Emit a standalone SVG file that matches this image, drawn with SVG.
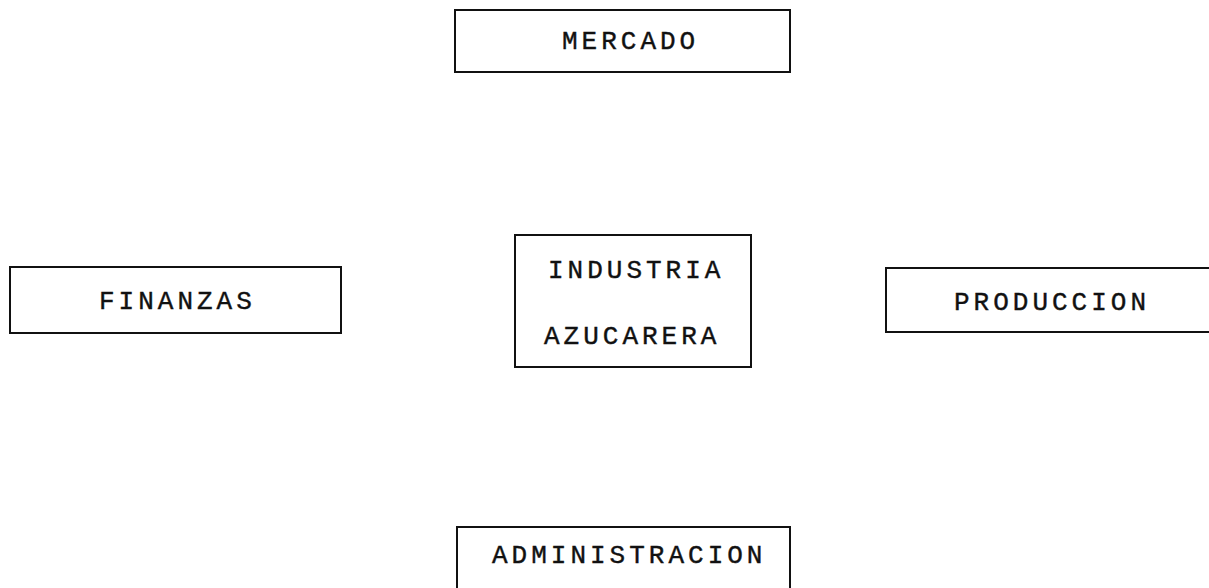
<svg xmlns="http://www.w3.org/2000/svg" width="1209" height="588" viewBox="0 0 1209 588">
<style>
.box{fill:#fff;stroke:#111;stroke-width:2}
.lbl{font-family:"Liberation Mono","Courier New",monospace;font-size:26px;letter-spacing:4px;fill:#111;stroke:#111;stroke-width:0.4}
</style>
<rect width="1209" height="588" fill="#fff"/>
<g id="connectors"></g>
<g id="mercado"><rect class="box" x="455" y="10" width="335" height="62"/><text class="lbl" x="562" y="49">MERCADO</text></g>
<g id="finanzas"><rect class="box" x="10" y="267" width="331" height="66"/><text class="lbl" x="99" y="309">FINANZAS</text></g>
<g id="industria"><rect class="box" x="515" y="235" width="236" height="132"/><text class="lbl" x="548" y="278">INDUSTRIA</text><text class="lbl" x="544" y="344">AZUCARERA</text></g>
<g id="produccion"><rect class="box" x="886" y="268" width="340" height="64"/><text class="lbl" x="954" y="310">PRODUCCION</text></g>
<g id="administracion"><rect class="box" x="457" y="527" width="333" height="80"/><text class="lbl" x="492" y="563">ADMINISTRACION</text></g>
</svg>
